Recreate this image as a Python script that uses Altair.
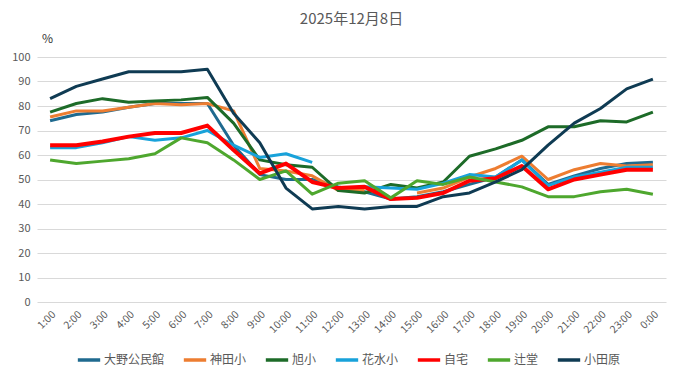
import altair as alt
import pandas as pd

hours = ["1:00", "2:00", "3:00", "4:00", "5:00", "6:00", "7:00", "8:00", "9:00", "10:00",
         "11:00", "12:00", "13:00", "14:00", "15:00", "16:00", "17:00", "18:00", "19:00",
         "20:00", "21:00", "22:00", "23:00", "0:00"]

series_names = ["大野公民館", "神田小", "旭小", "花水小", "自宅", "辻堂", "小田原"]
series_colors = ["#1F6A8F", "#ED7D31", "#1D6B28", "#18A2DA", "#FF0000", "#4EA72E", "#0F3B53"]

ono = [74, 76.5, 77.5, 79.5, 81, 81, 81, 64, 52, 50, 50, 47, 45, 42, 43, 45, 48, 51, 58, 48, 51.5, 54.5, 56.5, 57]
kanda = [75.5, 78, 78, 79.5, 81, 80.5, 81, 78, 54.5, 53.5, 51.5, 45.5, 45.5, None, 44.5, 46.5, 51, 54.5, 59.5, 50, 54, 56.5, 55.5, 56]
asahi = [77.5, 81, 83, 81.5, 82, 82.5, 83.5, 73, 58, 56, 55, 45.5, 44.5, 48, 46.5, 49, 59.5, 62.5, 66, 71.5, 71.5, 74, 73.5, 77.5]
hanamizu = [63, 63, 65, 67.5, 66, 67, 70, 64, 59, 60.5, 57, None, 47, 46.5, 46, 48.5, 52, 51, 58, 47.5, 51, 53, 55, 55]
jitaku = [64, 64, 65.5, 67.5, 69, 69, 72, 62, 52.5, 56.5, 49, 46.5, 47, 42, 42.5, 44.5, 49.5, 50.5, 55.5, 46, 50, 52, 54, 54]
tsujido = [58, 56.5, 57.5, 58.5, 60.5, 67, 65, 58, 50, 53.5, 44, 48.5, 49.5, 42.5, 49.5, 48, 51, 49, 47, 43, 43, 45, 46, 44]
odawara = [83, 88, 91, 94, 94, 94, 95, 77, 65, 46.5, 38, 39, 38, 39, 39, 43, 44.5, 49, 54, 64, 73, 79, 87, 91]

all_values = [ono, kanda, asahi, hanamizu, jitaku, tsujido, odawara]

rows = []
for name, vals in zip(series_names, all_values):
    for h, v in zip(hours, vals):
        rows.append({"time": h, "series": name, "value": v})
df = pd.DataFrame(rows)

FONT = "Noto Sans CJK JP"
GREY = "#595959"
hours_js = "[" + ",".join('"' + h + '"' for h in hours) + "]"

chart = alt.Chart(df).mark_line(strokeJoin="round").encode(
    x=alt.X("time:N", sort=hours, scale=alt.Scale(domain=hours),
            axis=alt.Axis(title=None, labelAngle=-45, ticks=False, domain=False, grid=False,
                          labelColor=GREY, labelFontSize=10.5, labelFont=FONT, labelPadding=7)),
    y=alt.Y("value:Q", scale=alt.Scale(domain=[0, 100], nice=False),
            axis=alt.Axis(values=list(range(0, 101, 10)), title="%", titleAngle=0,
                          titleX=10, titleY=-19, titleAlign="center", titleBaseline="middle",
                          titleFontSize=12, titleFontWeight="normal", titleColor="#333333", titleFont=FONT,
                          domain=False, ticks=False, gridColor="#D9D9D9", gridWidth=1,
                          labelColor=GREY, labelFontSize=11, labelFont=FONT, labelPadding=7)),
    color=alt.Color("series:N", sort=series_names,
                    scale=alt.Scale(domain=series_names, range=series_colors),
                    legend=alt.Legend(title=None, orient="none", legendX=39, legendY=290,
                                      direction="horizontal", columns=7,
                                      symbolType="stroke", symbolStrokeWidth=3.5, symbolSize=500,
                                      labelFontSize=12, labelColor=GREY, labelFont=FONT,
                                      columnPadding=11, labelOffset=2)),
    strokeWidth=alt.StrokeWidth("w:Q", scale=None),
    order=alt.Order("time_idx:Q"),
).transform_calculate(
    time_idx="indexof(" + hours_js + ", datum.time)",
    w="datum.series === '自宅' ? 4 : 3",
).properties(
    width=629, height=245,
    title=alt.Title("2025年12月8日", fontSize=15, color=GREY, font=FONT, fontWeight="normal",
                    anchor="middle", offset=5),
    autosize=alt.AutoSizeParams(type="none"),
    padding={"left": 29, "top": 49, "right": 7, "bottom": 69},
    background="white",
).configure_view(stroke=None)

chart.save("out.html", embed_options={"renderer": "svg", "actions": False})
